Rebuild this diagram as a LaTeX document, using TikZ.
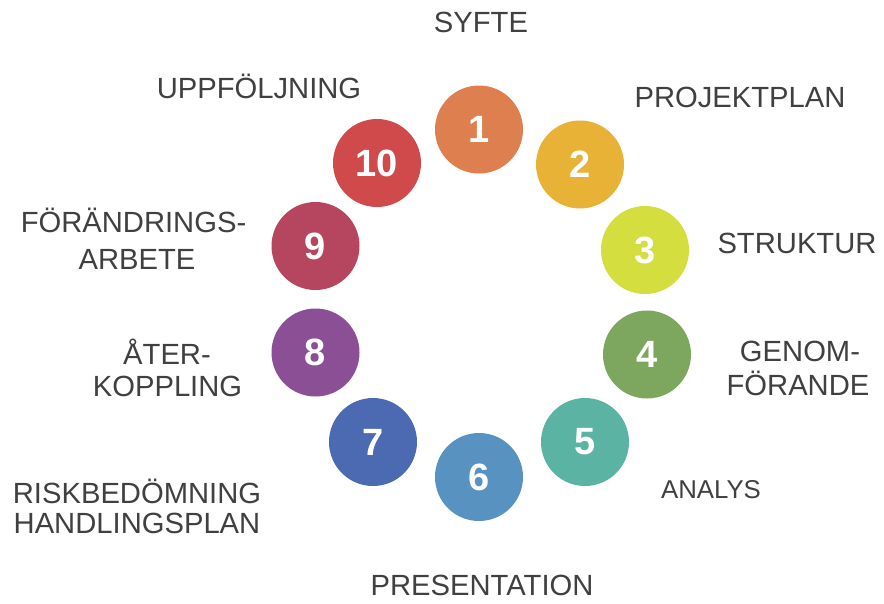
\documentclass[tikz,border=0pt]{standalone}
\usepackage{fontspec}
\setmainfont{Liberation Sans}
\definecolor{cA}{HTML}{DE7F50}
\definecolor{cB}{HTML}{E8B236}
\definecolor{cC}{HTML}{D4DE3E}
\definecolor{cD}{HTML}{7DA75E}
\definecolor{cE}{HTML}{5BB3A3}
\definecolor{cF}{HTML}{5892C0}
\definecolor{cG}{HTML}{4B6AB1}
\definecolor{cH}{HTML}{8B4F95}
\definecolor{cI}{HTML}{B6465F}
\definecolor{cJ}{HTML}{D04A4B}
\definecolor{txt}{HTML}{404040}
\begin{document}
\begin{tikzpicture}[x=1pt,y=-1pt,
  dot/.style={circle,inner sep=0pt,minimum size=88pt,text=white,
    font=\fontsize{38}{38}\selectfont\bfseries},
  lbl/.style={anchor=base,inner sep=0pt,text=txt,font=\fontsize{29.2}{34}\selectfont},
  lbls/.style={lbl,font=\fontsize{25.8}{30}\selectfont}]
\useasboundingbox[fill=white] (0,0) rectangle (884,603);
\node[dot,fill=cA] (n1) at (479,129.5) {1};
\node[dot,fill=cB] (n2) at (580,164.5) {2};
\node[dot,fill=cC] (n3) at (645,250) {3};
\node[dot,fill=cD] (n4) at (647,354.5) {4};
\node[dot,fill=cE] (n5) at (585,442) {5};
\node[dot,fill=cF] (n6) at (479,477) {6};
\node[dot,fill=cG] (n7) at (373,442) {7};
\node[dot,fill=cH] (n8) at (315.5,352.5) {8};
\node[dot,fill=cI] (n9) at (315.5,246) {9};
\node[dot,fill=cJ] (n10) at (377,163) {10};
\node[lbl] (t1) at (481,32) {SYFTE};
\node[lbl] (t2) at (740,107) {PROJEKTPLAN};
\node[lbl] (t3) at (797,253) {STRUKTUR};
\node[lbl] (t4a) at (800,361) {GENOM-};
\node[lbl] (t4b) at (798,395) {FÖRANDE};
\node[lbls] (t5) at (711,498) {ANALYS};
\node[lbl] (t6) at (482,595) {PRESENTATION};
\node[lbl] (t7a) at (137,503) {RISKBEDÖMNING};
\node[lbl] (t7b) at (137,533) {HANDLINGSPLAN};
\node[lbl] (t8a) at (167,364) {ÅTER-};
\node[lbl] (t8b) at (167.5,396) {KOPPLING};
\node[lbl] (t9a) at (133.5,232) {FÖRÄNDRINGS-};
\node[lbl] (t9b) at (137,269) {ARBETE};
\node[lbl] (t10) at (259,98) {UPPFÖLJNING};
\end{tikzpicture}
\end{document}
